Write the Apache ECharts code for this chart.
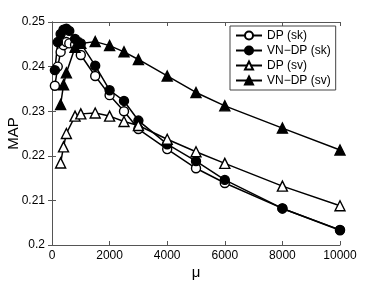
<!DOCTYPE html>
<html><head><meta charset="utf-8">
<script src="https://cdn.jsdelivr.net/npm/echarts@6/dist/echarts.min.js"></script>
<style>html,body{margin:0;padding:0;background:#fff}#c{width:374px;height:281px}</style>
</head><body><div id="c"></div>
<script>
const muSk = [100,200,300,400,500,600,800,1000,1500,2000,2500,3000,4000,5000,6000,8000,10000];
const dpSk = [0.2357,0.2400,0.2433,0.2448,0.2455,0.2452,0.2449,0.2426,0.2379,0.2336,0.2300,0.2260,0.2215,0.2172,0.2139,0.2082,0.2034];
const vnSk = [0.2392,0.2455,0.2473,0.2483,0.2485,0.2480,0.2462,0.2452,0.2402,0.2347,0.2323,0.2279,0.2226,0.2188,0.2146,0.2082,0.2033];
const muSv = [300,400,500,800,1000,1500,2000,2500,3000,4000,5000,6000,8000,10000];
const dpSv = [0.2184,0.2220,0.2250,0.2289,0.2294,0.2296,0.2289,0.2277,0.2268,0.2237,0.2209,0.2183,0.2132,0.2088];
const vnSv = [0.2315,0.2359,0.2386,0.2443,0.2452,0.2456,0.2447,0.2433,0.2416,0.2379,0.2342,0.2312,0.2262,0.2213];
const names = ['DP (sk)','VN\u2212DP (sk)','DP (sv)','VN\u2212DP (sv)'];

const pair = (xs, ys) => xs.map((x,i)=>[x, ys[i]]);
const font = 'Liberation Sans, Arial, sans-serif';
const axisCol = '#555';
function mk(name, data, symbol, filled, size){
  return {name, type:'line', data, symbol, symbolSize:size, showSymbol:true,
    lineStyle:{color:'#000', width:1.5},
    itemStyle:{color: filled ? '#000' : '#fff', borderColor:'#000', borderWidth:1.4},
    emphasis:{disabled:true}, animation:false, z: 2};
}
const chart = echarts.init(document.getElementById('c'), null, {renderer:'canvas'});
chart.setOption({
  animation:false,
  grid:{left:52, right:34, top:22, bottom:36, containLabel:false, outerBoundsMode:'none'},
  legend:{orient:'vertical', left:230, top:26, padding:[3,5,3,5], itemGap:2, itemWidth:26, itemHeight:10,
    backgroundColor:'#fff', borderColor:'#444', borderWidth:1, borderRadius:0,
    textStyle:{fontFamily:font, fontSize:12, color:'#000', lineHeight:13},
    data: names},
  xAxis:[{type:'value', min:0, max:10000, interval:2000, name:'\u03bc', nameLocation:'middle', nameGap:20, nameMoveOverlap:false,
    nameTextStyle:{fontFamily:font, fontSize:15, color:'#000'},
    axisLine:{lineStyle:{color:axisCol}}, axisTick:{inside:true, length:4, lineStyle:{color:axisCol}},
    axisLabel:{fontFamily:font, fontSize:12, color:'#000', margin:5, formatter:v=>String(v)}, splitLine:{show:false}},
    {type:'value', position:'top', min:0, max:10000, interval:2000,
    axisLine:{show:true, lineStyle:{color:axisCol}}, axisTick:{inside:true, length:4, lineStyle:{color:axisCol}},
    axisLabel:{show:false}, splitLine:{show:false}}],
  yAxis:[{type:'value', min:0.2, max:0.25, interval:0.01, name:'MAP', nameLocation:'middle', nameGap:31, nameMoveOverlap:false,
    nameTextStyle:{fontFamily:font, fontSize:15, color:'#000'},
    axisLine:{show:true, lineStyle:{color:axisCol}}, axisTick:{show:true, inside:true, length:4, lineStyle:{color:axisCol}},
    axisLabel:{fontFamily:font, fontSize:12, color:'#000', margin:7, formatter:v=>String(+v.toFixed(2))}, splitLine:{show:false}},
    {type:'value', position:'right', min:0.2, max:0.25, interval:0.01,
    axisLine:{show:true, lineStyle:{color:axisCol}}, axisTick:{show:true, inside:true, length:4, lineStyle:{color:axisCol}},
    axisLabel:{show:false}, splitLine:{show:false}}],
  series:[
    mk(names[0], pair(muSk, dpSk), 'circle', false, 9),
    mk(names[1], pair(muSk, vnSk), 'circle', true, 9),
    mk(names[2], pair(muSv, dpSv), 'triangle', false, 10),
    mk(names[3], pair(muSv, vnSv), 'triangle', true, 10)
  ]
});
</script></body></html>
